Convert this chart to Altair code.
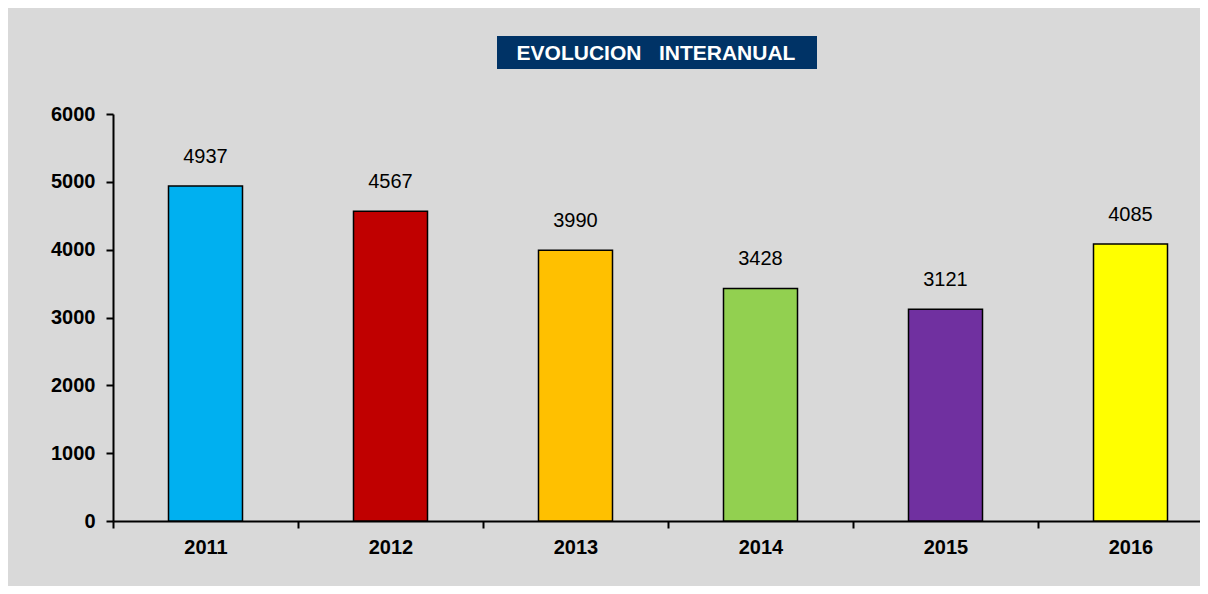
import altair as alt
import pandas as pd

years = ["2011", "2012", "2013", "2014", "2015", "2016"]
values = [4937, 4567, 3990, 3428, 3121, 4085]
colors = ["#00b0f0", "#c00000", "#ffc000", "#92d050", "#7030a0", "#ffff00"]
title_text = "EVOLUCION\u00a0\u00a0\u00a0INTERANUAL"
y_ticks = [0, 1000, 2000, 3000, 4000, 5000, 6000]

df = pd.DataFrame({"year": years, "value": values})
FONT = "Liberation Sans"

xscale = alt.Scale(range=[0, 1110], paddingInner=0, paddingOuter=0)
base = alt.Chart(df)

bars = base.mark_bar(stroke="black", strokeWidth=1.5,
                     width=alt.RelativeBandSize(0.4)).encode(
    x=alt.X("year:N", scale=xscale, sort=years, title=None,
            axis=alt.Axis(labelAngle=0, labelFont=FONT, labelFontSize=20,
                          labelFontWeight="bold", labelColor="black",
                          labelPadding=9, tickBand="extent", tickSize=7,
                          tickWidth=2, tickColor="black", domainColor="black",
                          domainWidth=2)),
    y=alt.Y("value:Q", scale=alt.Scale(domain=[0, 6000]), title=None,
            axis=alt.Axis(values=y_ticks, format="d", grid=False,
                          labelFont=FONT, labelFontSize=20,
                          labelFontWeight="bold", labelColor="black",
                          labelPadding=11, tickSize=7, tickWidth=2,
                          tickColor="black", domainColor="black",
                          domainWidth=2)),
    color=alt.Color("year:N", scale=alt.Scale(domain=years, range=colors),
                    legend=None),
)

labels = base.mark_text(font=FONT, fontSize=20, color="black",
                        baseline="alphabetic", dy=-23).encode(
    x=alt.X("year:N", scale=xscale, sort=years),
    y=alt.Y("value:Q"),
    text=alt.Text("value:Q", format="d"),
)

tdf = pd.DataFrame({"t": [title_text]})
tbox = alt.Chart(tdf).mark_rect(color="#003366").encode(
    x=alt.value(384), x2=alt.value(704), y=alt.value(-78), y2=alt.value(-45)
)
ttext = alt.Chart(tdf).mark_text(font=FONT, fontSize=21, fontWeight="bold",
                                 color="white", baseline="middle",
                                 align="center").encode(
    x=alt.value(543), y=alt.value(-60), text="t:N"
)

chart = alt.layer(bars, labels, tbox, ttext).properties(
    width=1087, height=407,
    autosize=alt.AutoSizeParams(type="none"),
    padding={"left": 105, "top": 106, "right": 0, "bottom": 65},
    background="#d9d9d9",
).configure_view(stroke=None)

chart.save("out.html", embed_options={"renderer": "svg", "actions": False})
